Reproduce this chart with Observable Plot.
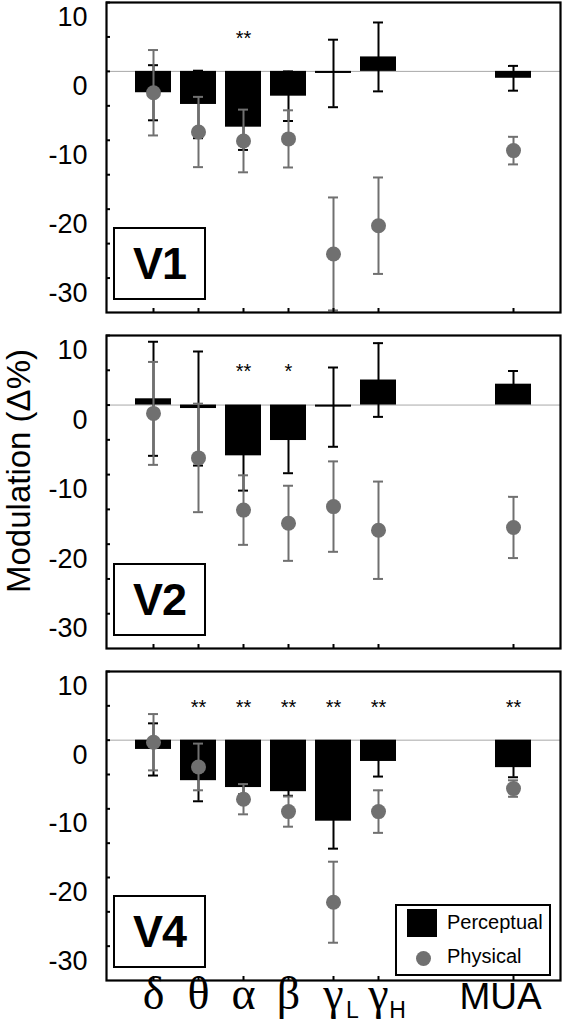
<!DOCTYPE html>
<html><head><meta charset="utf-8">
<script src="https://cdn.jsdelivr.net/npm/d3@7"></script>
<script src="https://cdn.jsdelivr.net/npm/@observablehq/plot@0.6"></script>
<style>
body{margin:0;background:#fff;}
#wrap{position:relative;width:562px;height:1032px;overflow:hidden;font-family:"Liberation Sans",Arial,sans-serif;background:#fff;}
#wrap svg{display:block}
.vbox{position:absolute;left:113px;width:89px;height:69px;border:2px solid #000;display:flex;align-items:center;justify-content:center;font-weight:bold;font-size:45px;letter-spacing:-1px;background:#fff;}
.ylab{position:absolute;left:19px;top:471px;transform:translate(-50%,-50%) rotate(-90deg);white-space:nowrap;font-size:33px;line-height:36px;}
.legend{position:absolute;left:395px;top:904px;width:152px;height:68px;border:2px solid #000;background:#fff;font-size:20px;}
.legend .sq{position:absolute;left:10px;top:3px;width:30px;height:28px;background:#000;}
.legend .ci{position:absolute;left:19px;top:45px;width:15px;height:15px;border-radius:50%;background:#707070;}
.legend .t1{position:absolute;left:50px;top:5px;}
.legend .t2{position:absolute;left:50px;top:39px;}
</style></head><body><div id="wrap"></div>
<script>
// ---- data ----
const categories = ["δ","θ","α","β","γL","γH","MUA"];
const slots = ["δ","θ","α","β","γL","γH"," ","  ","MUA"];
const panels = ["V1","V2","V4"];
const yTickLabels = [10, 0, -10, -20, -30];
const yMinorTicks = [10, 5, 0, -5, -10, -15, -20, -25, -30];

const perceptualV1 = [-3.1, -4.8, -8.1, -3.6, -0.3, 2.1, -1.0];
const perceptualErrV1 = [4.0, 4.9, 3.3, 3.6, 4.9, 5.0, 1.8];
const physicalV1 = [-3.1, -8.8, -10.1, -9.8, -26.5, -22.4, -11.5];
const physicalErrV1 = [6.2, 5.1, 4.55, 4.15, 8.2, 7.0, 2.0];
const starsV1 = ["", "", "**", "", "", "", ""];

const perceptualV2 = [0.9, -0.5, -7.3, -5.1, -0.3, 3.6, 3.0];
const perceptualErrV2 = [8.2, 8.2, 5.0, 4.7, 5.7, 5.3, 1.9];
const physicalV2 = [-1.2, -7.6, -15.1, -17.0, -14.6, -18.0, -17.6];
const physicalErrV2 = [7.4, 7.8, 5.0, 5.4, 6.5, 7.0, 4.4];
const starsV2 = ["", "", "**", "*", "", "", ""];

const perceptualV4 = [-1.35, -5.9, -6.9, -7.5, -11.8, -3.1, -4.0];
const perceptualErrV4 = [3.8, 3.0, 1.0, 0.6, 4.0, 2.2, 1.4];
const physicalV4 = [-0.3, -3.9, -8.6, -10.4, -23.6, -10.4, -7.05];
const physicalErrV4 = [4.1, 3.4, 2.2, 2.2, 5.9, 3.1, 1.2];
const starsV4 = ["", "**", "**", "**", "**", "**", "**"];

const xMain = ["δ","θ","α","β","γ","γ"];
const xSub = [{cat:"γL", t:"L"}, {cat:"γH", t:"H"}];

const series = [
  [perceptualV1, perceptualErrV1, physicalV1, physicalErrV1, starsV1],
  [perceptualV2, perceptualErrV2, physicalV2, physicalErrV2, starsV2],
  [perceptualV4, perceptualErrV4, physicalV4, physicalErrV4, starsV4]
];

// ---- layout ----
const layout = [
  {height: 323, marginTop: 2, marginBottom: 11},
  {height: 336, marginTop: 12, marginBottom: 11},
  {height: 373, marginTop: 12, marginBottom: 52}
];
const GRAY = "#707070";
const wrap = document.getElementById("wrap");
let yOff = 0;

panels.forEach((name, i) => {
  const [P, PE, Y, YE, S] = series[i];
  const rows = categories.map((c, j) => ({cat: c, perc: P[j], percErr: PE[j], phys: Y[j], physErr: YE[j], star: S[j]}));
  const L = layout[i];
  const marks = [
    Plot.ruleY([0], {stroke: "#a8a8a8", strokeWidth: 1}),
    Plot.barY(rows, {x: "cat", y: "perc", fill: "black"}),
    Plot.ruleX(rows, {x: "cat", y1: d => d.perc - d.percErr, y2: d => d.perc + d.percErr, stroke: "black", strokeWidth: 2}),
    Plot.tickY(rows, {x: "cat", y: d => d.perc + d.percErr, stroke: "black", strokeWidth: 2, insetLeft: 13, insetRight: 13}),
    Plot.tickY(rows, {x: "cat", y: d => d.perc - d.percErr, stroke: "black", strokeWidth: 2, insetLeft: 13, insetRight: 13}),
    Plot.ruleX(rows, {x: "cat", y1: d => d.phys - d.physErr, y2: d => d.phys + d.physErr, stroke: GRAY, strokeWidth: 2}),
    Plot.tickY(rows, {x: "cat", y: d => d.phys + d.physErr, stroke: GRAY, strokeWidth: 2, insetLeft: 13, insetRight: 13}),
    Plot.tickY(rows, {x: "cat", y: d => d.phys - d.physErr, stroke: GRAY, strokeWidth: 2, insetLeft: 13, insetRight: 13}),
    Plot.dot(rows, {x: "cat", y: "phys", r: 7.5, fill: GRAY, stroke: "none"}),
    Plot.text(rows.filter(d => d.star), {x: "cat", text: "star", frameAnchor: "top", dy: 28, fontSize: 20}),
    Plot.axisY(yMinorTicks, {anchor: "left", tickSize: 4, dx: 4, tickFormat: () => "", strokeWidth: 2, label: null}),
    Plot.axisY(yTickLabels, {anchor: "left", tickSize: 0, tickPadding: 19, dy: 15, fontSize: 27, tickFormat: d => String(d), label: null}),
    Plot.axisX(categories, {anchor: "bottom", tickSize: 4, dy: -4, tickFormat: () => "", strokeWidth: 2, label: null}),
    Plot.frame({stroke: "black", strokeWidth: 2.2})
  ];
  if (i === panels.length - 1) {
    marks.push(
      Plot.text(categories.slice(0, 6), {x: d => d, text: (d, k) => xMain[k], frameAnchor: "bottom", dy: 28, fontSize: 46, fontFamily: '"Liberation Serif", "DejaVu Serif", serif'}),
      Plot.text(xSub, {x: "cat", text: "t", frameAnchor: "bottom", dy: 37, dx: 19, fontSize: 23}),
      Plot.text(["MUA"], {x: d => d, text: d => d, frameAnchor: "bottom", dy: 28, dx: -13, fontSize: 37})
    );
  }
  const chart = Plot.plot({
    width: 562,
    height: L.height,
    marginTop: L.marginTop,
    marginBottom: L.marginBottom,
    marginLeft: 106,
    marginRight: 2,
    style: {fontFamily: '"Liberation Sans", Arial, sans-serif', fontSize: "26px", color: "black", background: "white", overflow: "visible"},
    x: {type: "band", domain: slots, paddingInner: 0.21, paddingOuter: 0.605},
    y: {domain: [-35, 10]},
    marks
  });
  chart.style.position = "absolute";
  chart.style.left = "0px";
  chart.style.top = yOff + "px";
  wrap.appendChild(chart);

  const box = document.createElement("div");
  box.className = "vbox";
  box.textContent = name;
  box.style.top = (yOff + L.height - L.marginBottom - 12 - 73) + "px";
  wrap.appendChild(box);

  yOff += L.height;
});

const ylab = document.createElement("div");
ylab.className = "ylab";
ylab.textContent = "Modulation (Δ%)";
wrap.appendChild(ylab);

const legend = document.createElement("div");
legend.className = "legend";
legend.innerHTML = '<div class="sq"></div><div class="t1">Perceptual</div><div class="ci"></div><div class="t2">Physical</div>';
wrap.appendChild(legend);
</script>
</body></html>
